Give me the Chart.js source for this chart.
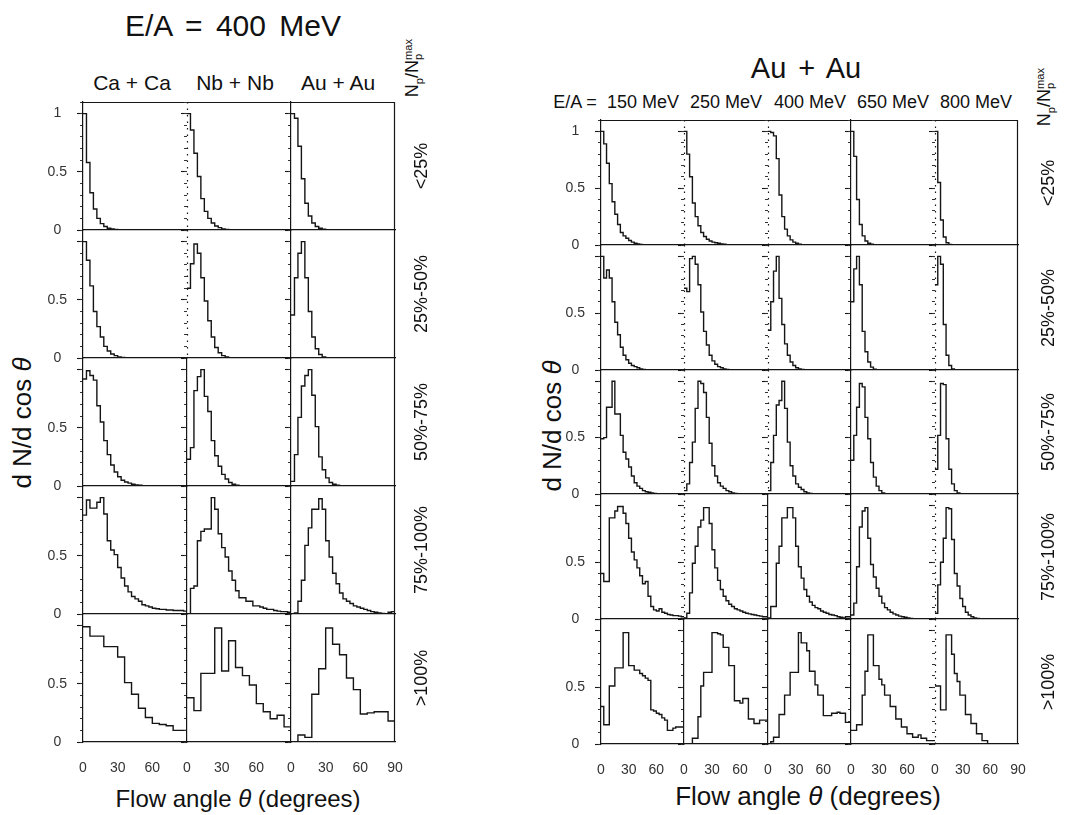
<!DOCTYPE html>
<html><head><meta charset="utf-8">
<script src="https://cdn.jsdelivr.net/npm/chart.js@4.4.1/dist/chart.umd.min.js"></script>
<style>
html,body{margin:0;padding:0;background:#fff}
body{width:1065px;height:815px;overflow:hidden;position:relative;font-family:"Liberation Sans",Arial,sans-serif;color:#111}
canvas{position:absolute}
.t{position:absolute;white-space:nowrap;line-height:1;transform:translate(-50%,-50%)}
.r{position:absolute;white-space:nowrap;line-height:1;transform:translate(-50%,-50%) rotate(-90deg)}
.st{display:inline-block;vertical-align:-0.35em;line-height:0.85;font-size:0.62em;text-align:left}
</style></head><body>

<div class="t" style="left:233px;top:26px;font-size:30px;word-spacing:5px">E/A = 400 MeV</div>
<div class="t" style="left:132px;top:82px;font-size:21px">Ca + Ca</div>
<div class="t" style="left:235px;top:82px;font-size:21px">Nb + Nb</div>
<div class="t" style="left:338px;top:82px;font-size:21px">Au + Au</div>
<div class="r" style="left:414px;top:68px;font-size:18px">N<sub style="font-size:0.62em">p</sub>/N<span class="st">max<br>p</span></div>

<div class="t" style="left:806px;top:68px;font-size:29px;word-spacing:4px">Au + Au</div>
<div class="t" style="left:575px;top:102px;font-size:18px">E/A =</div>
<div class="t" style="left:643px;top:102px;font-size:18px">150 MeV</div>
<div class="t" style="left:726px;top:102px;font-size:18px">250 MeV</div>
<div class="t" style="left:810px;top:102px;font-size:18px">400 MeV</div>
<div class="t" style="left:893px;top:102px;font-size:18px">650 MeV</div>
<div class="t" style="left:976px;top:102px;font-size:18px">800 MeV</div>
<div class="r" style="left:1046px;top:97px;font-size:18px">N<sub style="font-size:0.62em">p</sub>/N<span class="st">max<br>p</span></div>

<div class="r" style="left:22px;top:423px;font-size:26px">d N/d cos <i>θ</i></div>
<div class="r" style="left:552px;top:426px;font-size:26px">d N/d cos <i>θ</i></div>
<div class="t" style="left:238px;top:799px;font-size:24px">Flow angle <i>θ</i> (degrees)</div>
<div class="t" style="left:808px;top:796px;font-size:26px">Flow angle <i>θ</i> (degrees)</div>

<script>
// ---------------- categories ----------------
const leftSystems = ["Ca + Ca", "Nb + Nb", "Au + Au"];
const rightEnergies = ["150 MeV", "250 MeV", "400 MeV", "650 MeV", "800 MeV"];
const multiplicityBins = ["<25%", "25%-50%", "50%-75%", "75%-100%", ">100%"];
const xTickValues = [0, 30, 60, 90];
const yTickLabels = ["0", "0.5", "1"];
// flow-angle bin widths (degrees) per multiplicity row
const leftBinWidth = [3, 3, 3, 3, 6];
const rightBinWidth = [3, 3, 3, 3, 3];

// ---------------- left: E/A = 400 MeV ----------------
const caca_lt25 = [1.0, 0.58, 0.32, 0.18, 0.10, 0.055, 0.03, 0.015, 0.008, 0.004, 0.002, 0];
const nbnb_lt25 = [1.0, 0.86, 0.66, 0.46, 0.27, 0.16, 0.10, 0.06, 0.035, 0.02, 0.01, 0.005, 0];
const auau_lt25 = [1.0, 0.96, 0.72, 0.44, 0.23, 0.12, 0.06, 0.03, 0.015, 0.006, 0.002, 0];

const caca_25_50 = [1.0, 0.84, 0.62, 0.40, 0.27, 0.18, 0.10, 0.06, 0.035, 0.02, 0.01, 0.005, 0.002, 0];
const nbnb_25_50 = [0.60, 0.81, 0.98, 0.90, 0.69, 0.49, 0.32, 0.18, 0.09, 0.045, 0.02, 0.008, 0.003, 0];
const auau_25_50 = [0.37, 0.69, 0.90, 1.0, 0.69, 0.40, 0.18, 0.08, 0.03, 0.01, 0.003, 0];

const caca_50_75 = [0.92, 0.99, 0.95, 0.91, 0.69, 0.55, 0.39, 0.27, 0.18, 0.12, 0.08, 0.05, 0.035, 0.025, 0.015, 0.01, 0.006, 0.003, 0];
const nbnb_50_75 = [0.23, 0.33, 0.82, 0.94, 1.0, 0.77, 0.64, 0.39, 0.26, 0.17, 0.10, 0.06, 0.03, 0.015, 0.007, 0.003, 0];
const auau_50_75 = [0.04, 0.27, 0.59, 0.86, 0.95, 1.0, 0.78, 0.51, 0.25, 0.14, 0.07, 0.03, 0.015, 0.006, 0.002, 0];

const caca_75_100 = [0.85, 0.98, 0.91, 0.91, 0.96, 1.0, 0.86, 0.63, 0.55, 0.51, 0.40, 0.31, 0.24, 0.19, 0.15, 0.13, 0.11, 0.08, 0.07, 0.06, 0.05, 0.045, 0.04, 0.04, 0.035, 0.035, 0.03, 0.03, 0.03, 0.025];
const nbnb_75_100 = [0, 0.22, 0.24, 0.63, 0.71, 0.73, 0.73, 1.0, 0.90, 0.69, 0.57, 0.49, 0.37, 0.29, 0.20, 0.14, 0.14, 0.11, 0.11, 0.07, 0.07, 0.06, 0.05, 0.04, 0.04, 0.03, 0.025, 0.02, 0.02, 0.015];
const auau_75_100 = [0, 0.01, 0.11, 0.29, 0.59, 0.74, 0.90, 0.90, 0.99, 0.90, 0.63, 0.49, 0.35, 0.26, 0.18, 0.13, 0.11, 0.09, 0.07, 0.06, 0.05, 0.04, 0.03, 0.02, 0.015, 0.01, 0.005, 0, 0.015, 0.02];

const caca_gt100 = [0.99, 0.91, 0.91, 0.82, 0.82, 0.73, 0.51, 0.41, 0.29, 0.21, 0.16, 0.15, 0.14, 0.10, 0.10];
const nbnb_gt100 = [0.38, 0.27, 0.59, 0.59, 0.98, 0.61, 0.87, 0.64, 0.57, 0.49, 0.33, 0.26, 0.20, 0.23, 0.13];
const auau_gt100 = [0.0, 0.06, 0.04, 0.41, 0.63, 0.98, 0.84, 0.75, 0.55, 0.45, 0.24, 0.25, 0.26, 0.26, 0.18];

// ---------------- right: Au + Au at several energies ----------------
const au150_lt25 = [1.0, 0.89, 0.72, 0.54, 0.38, 0.27, 0.18, 0.11, 0.08, 0.06, 0.04, 0.025, 0.015, 0.01, 0.005, 0.002, 0];
const au250_lt25 = [1.0, 0.80, 0.60, 0.37, 0.25, 0.17, 0.11, 0.075, 0.05, 0.035, 0.025, 0.02, 0.015, 0.01, 0.006, 0.003, 0];
const au400_lt25 = [1.0, 0.99, 0.96, 0.76, 0.44, 0.25, 0.14, 0.08, 0.045, 0.025, 0.015, 0.008, 0.003, 0];
const au650_lt25 = [1.0, 0.78, 0.40, 0.18, 0.08, 0.035, 0.015, 0.006, 0.002, 0];
const au800_lt25 = [1.0, 0.55, 0.22, 0.07, 0.02, 0.005, 0];

const au150_25_50 = [1.0, 0.81, 0.88, 0.81, 0.60, 0.42, 0.31, 0.20, 0.13, 0.09, 0.06, 0.04, 0.03, 0.02, 0.01, 0.005, 0];
const au250_25_50 = [0.72, 0.69, 0.98, 1.0, 0.93, 0.75, 0.51, 0.34, 0.22, 0.13, 0.08, 0.05, 0.03, 0.02, 0.01, 0.005, 0];
const au400_25_50 = [0.35, 0.60, 0.87, 1.0, 0.63, 0.40, 0.23, 0.13, 0.07, 0.04, 0.02, 0.01, 0.005, 0];
const au650_25_50 = [0.60, 0.89, 1.0, 0.75, 0.34, 0.16, 0.07, 0.025, 0.008, 0];
const au800_25_50 = [0.75, 1.0, 0.93, 0.40, 0.13, 0.04, 0.01, 0];

const au150_50_75 = [0.49, 0.50, 0.77, 0.77, 1.0, 0.71, 0.71, 0.52, 0.37, 0.31, 0.24, 0.16, 0.10, 0.07, 0.05, 0.03, 0.02, 0.015, 0.01, 0.005, 0];
const au250_50_75 = [0.03, 0.09, 0.28, 0.46, 0.76, 1.0, 0.98, 0.90, 0.68, 0.45, 0.25, 0.16, 0.10, 0.07, 0.05, 0.03, 0.02, 0.01, 0.005, 0];
const au400_50_75 = [0.03, 0.28, 0.52, 0.79, 0.83, 1.0, 0.76, 0.46, 0.25, 0.16, 0.09, 0.06, 0.04, 0.02, 0.01, 0.005, 0];
const au650_50_75 = [0.30, 0.52, 0.77, 0.98, 0.95, 0.68, 0.49, 0.28, 0.15, 0.07, 0.03, 0.01, 0.003, 0];
const au800_50_75 = [0.22, 0.52, 0.98, 0.97, 0.49, 0.22, 0.09, 0.03, 0.01, 0];

const au150_75_100 = [0.40, 0.33, 0.33, 0.89, 0.89, 0.95, 0.99, 0.99, 0.93, 0.84, 0.71, 0.59, 0.52, 0.45, 0.38, 0.31, 0.33, 0.20, 0.11, 0.08, 0.07, 0.09, 0.06, 0.05, 0.04, 0.035, 0.03, 0.03, 0.025, 0.02];
const au250_75_100 = [0.01, 0.05, 0.23, 0.49, 0.64, 0.81, 0.87, 0.98, 0.98, 0.84, 0.61, 0.45, 0.34, 0.26, 0.20, 0.16, 0.13, 0.11, 0.09, 0.08, 0.07, 0.06, 0.05, 0.045, 0.04, 0.035, 0.03, 0.025, 0.02, 0.02];
const au400_75_100 = [0.01, 0.11, 0.11, 0.49, 0.64, 0.89, 0.89, 0.98, 0.98, 0.89, 0.64, 0.46, 0.36, 0.26, 0.20, 0.15, 0.12, 0.10, 0.09, 0.07, 0.06, 0.05, 0.04, 0.035, 0.03, 0.02, 0.015, 0.01, 0.02, 0.02];
const au650_75_100 = [0.035, 0.14, 0.46, 0.81, 0.95, 0.98, 0.71, 0.48, 0.37, 0.27, 0.20, 0.14, 0.10, 0.08, 0.06, 0.045, 0.035, 0.025, 0.02, 0.015, 0.01, 0.005, 0.003, 0];
const au800_75_100 = [0.05, 0.30, 0.50, 0.71, 0.98, 0.97, 0.70, 0.40, 0.29, 0.18, 0.11, 0.06, 0.035, 0.02, 0.01, 0.005, 0.002, 0];

const au150_gt100 = [0.33, 0.17, 0.17, 0.51, 0.51, 0.67, 0.67, 0.67, 0.98, 0.98, 0.69, 0.69, 0.65, 0.65, 0.62, 0.60, 0.58, 0.56, 0.30, 0.29, 0.27, 0.26, 0.23, 0.21, 0.12, 0.12, 0.14, 0.15, 0.15, 0.15];
const au250_gt100 = [0, 0, 0, 0.05, 0.05, 0.24, 0.51, 0.63, 0.63, 0.63, 0.98, 0.98, 0.97, 0.96, 0.85, 0.85, 0.69, 0.69, 0.38, 0.38, 0.36, 0.40, 0.40, 0.22, 0.22, 0.18, 0.18, 0.21, 0.21, 0.21];
const au400_gt100 = [0, 0.02, 0.06, 0.06, 0.26, 0.26, 0.43, 0.43, 0.63, 0.63, 0.63, 0.98, 0.89, 0.89, 0.82, 0.64, 0.64, 0.52, 0.43, 0.43, 0.25, 0.25, 0.25, 0.27, 0.27, 0.28, 0.27, 0.27, 0.19, 0.19];
const au650_gt100 = [0.12, 0.12, 0.17, 0.17, 0.43, 0.64, 0.96, 0.96, 0.69, 0.69, 0.57, 0.52, 0.43, 0.43, 0.33, 0.33, 0.22, 0.22, 0.15, 0.15, 0.09, 0.09, 0.06, 0.06, 0.08, 0.05, 0.05, 0.03, 0.03, 0.03];
const au800_gt100 = [0.51, 0.51, 0.30, 0.30, 0.96, 0.96, 0.79, 0.62, 0.55, 0.43, 0.43, 0.26, 0.26, 0.18, 0.18, 0.09, 0.09, 0.03, 0.03, 0];

const leftGrid = [
  [caca_lt25, nbnb_lt25, auau_lt25],
  [caca_25_50, nbnb_25_50, auau_25_50],
  [caca_50_75, nbnb_50_75, auau_50_75],
  [caca_75_100, nbnb_75_100, auau_75_100],
  [caca_gt100, nbnb_gt100, auau_gt100]
];
const rightGrid = [
  [au150_lt25, au250_lt25, au400_lt25, au650_lt25, au800_lt25],
  [au150_25_50, au250_25_50, au400_25_50, au650_25_50, au800_25_50],
  [au150_50_75, au250_50_75, au400_50_75, au650_50_75, au800_50_75],
  [au150_75_100, au250_75_100, au400_75_100, au650_75_100, au800_75_100],
  [au150_gt100, au250_gt100, au400_gt100, au650_gt100, au800_gt100]
];

// ---------------- layout (pixels) ----------------
const Y_MAX = 1.1;
const PAD_L = 50, PAD_T = 8, PAD_R = 12, PAD_B = 40;
const INK = '#151515';
const leftLayout = {x0: 83, colW: 104, y0: 102, rowH: 128, labelX: 421,
  dashed: (r, c) => c === 1 && r <= 1};
const rightLayout = {x0: 601, colW: 83.4, y0: 120, rowH: 124.8, labelX: 1048,
  dashed: (r, c) => (c === 1 && r <= 3) || (c === 2 && r <= 2) || c === 4};

// frame lines on the top / right edges of the plot area, dotted left edge where needed
const framePlugin = {
  id: 'frame',
  afterDraw(chart, args, opts) {
    const a = chart.chartArea, ctx = chart.ctx;
    ctx.save();
    ctx.strokeStyle = INK; ctx.lineWidth = 1.2;
    ctx.beginPath();
    if (opts.top) { const y = Math.round(a.top) + 0.5; ctx.moveTo(a.left, y); ctx.lineTo(a.right, y); }
    if (opts.right) { const x = Math.round(a.right) - 0.5; ctx.moveTo(x, a.top); ctx.lineTo(x, a.bottom); }
    ctx.stroke();
    if (opts.dotted) {
      ctx.beginPath();
      ctx.setLineDash([1.5, 5]);
      const x = Math.round(a.left) + 0.5;
      ctx.moveTo(x, a.top); ctx.lineTo(x, a.bottom);
      ctx.stroke();
    }
    ctx.restore();
  }
};

function histPoints(values, bw) {
  const pts = values.map((v, i) => ({x: i * bw, y: v}));
  const end = values.length * bw;
  if (end < 90) { pts.push({x: end, y: 0}); pts.push({x: 90, y: 0}); }
  else { pts.push({x: 90, y: values[values.length - 1]}); }
  return pts;
}

function panel(left, top, w, h, values, bw, f) {
  const cv = document.createElement('canvas');
  cv.width = w + PAD_L + PAD_R; cv.height = h + PAD_T + PAD_B;
  cv.style.left = (left - PAD_L) + 'px'; cv.style.top = (top - PAD_T) + 'px';
  cv.style.width = cv.width + 'px'; cv.style.height = cv.height + 'px';
  document.body.appendChild(cv);
  const tickFont = {family: 'Liberation Sans', size: 14};
  new Chart(cv, {
    type: 'line',
    data: {datasets: [{data: histPoints(values, bw), stepped: true, borderColor: INK,
      borderWidth: 1.4, pointRadius: 0, fill: false, xAxisID: 'x', yAxisID: 'y'}]},
    plugins: [framePlugin],
    options: {
      responsive: false, animation: false, devicePixelRatio: 1, events: [],
      layout: {padding: {left: 0, top: PAD_T, right: PAD_R, bottom: 0}},
      plugins: {legend: {display: false}, tooltip: {enabled: false},
        frame: {top: f.top, right: f.lastCol, dotted: f.dashed}},
      scales: {
        x: {type: 'linear', position: 'bottom', min: 0, max: 90,
          afterFit: s => { s.height = PAD_B; s.paddingLeft = 0; s.paddingRight = 0; },
          afterBuildTicks: s => { s.ticks = xTickValues.map(v => ({value: v})); },
          ticks: {display: f.bottom, autoSkip: false, maxRotation: 0, minRotation: 0, padding: 18,
            color: '#333', font: tickFont,
            callback: v => (v === 90 && !f.lastCol) ? '' : String(v)},
          grid: {display: true, drawOnChartArea: false, drawTicks: false},
          border: {display: true, color: INK, width: 1.2}},
        y: {type: 'linear', position: 'left', weight: 2, min: 0, max: Y_MAX,
          afterFit: s => { s.width = PAD_L; s.paddingTop = 0; s.paddingBottom = 0; },
          ticks: {display: f.leftCol, stepSize: 0.5, includeBounds: false, autoSkip: false,
            padding: 10, crossAlign: 'center', color: '#333', font: tickFont,
            callback: v => {
              const k = Math.round(v * 2);
              if (k === 2) return f.top ? yTickLabels[2] : '';
              if (k === 1) return yTickLabels[1];
              if (k === 0) return yTickLabels[0];
              return '';
            }},
          grid: {display: true, drawOnChartArea: false, drawTicks: true, tickLength: 6,
            tickColor: INK, tickWidth: 1.1},
          border: {display: false}},
        yMinor: {type: 'linear', position: 'left', weight: 1, min: 0, max: Y_MAX,
          afterFit: s => { s.width = 0; s.paddingTop = 0; s.paddingBottom = 0; },
          ticks: {display: false, stepSize: 0.1, includeBounds: false, autoSkip: false},
          grid: {display: true, drawOnChartArea: false, drawTicks: true, tickLength: 3,
            tickColor: '#333', tickWidth: 1},
          border: {display: !f.dashed, color: INK, width: 1.2}}
      }
    }
  });
}

function grid(data, binW, lay, nCols) {
  for (let r = 0; r < data.length; r++) {
    const top = Math.round(lay.y0 + r * lay.rowH);
    const bot = Math.round(lay.y0 + (r + 1) * lay.rowH);
    for (let c = 0; c < nCols; c++) {
      const left = Math.round(lay.x0 + c * lay.colW);
      const right = Math.round(lay.x0 + (c + 1) * lay.colW);
      panel(left, top, right - left, bot - top, data[r][c], binW[r], {
        top: r === 0, bottom: r === data.length - 1, leftCol: c === 0,
        lastCol: c === nCols - 1, dashed: lay.dashed(r, c)});
    }
    const lab = document.createElement('div');
    lab.className = 'r';
    lab.style.left = lay.labelX + 'px';
    lab.style.top = ((top + bot) / 2) + 'px';
    lab.style.fontSize = '18px';
    lab.textContent = multiplicityBins[r];
    document.body.appendChild(lab);
  }
}

grid(leftGrid, leftBinWidth, leftLayout, leftSystems.length);
grid(rightGrid, rightBinWidth, rightLayout, rightEnergies.length);
</script>
</body></html>
